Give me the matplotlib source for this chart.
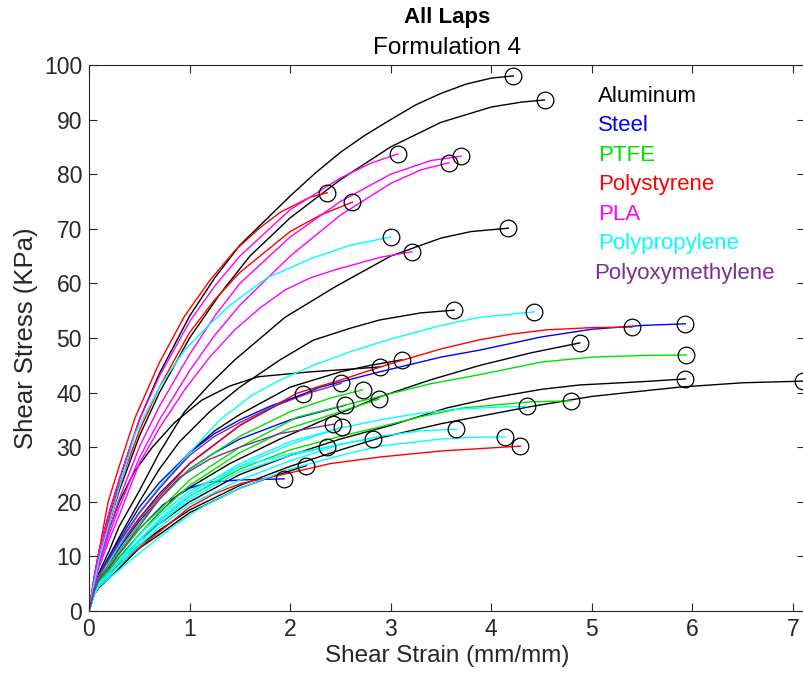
import matplotlib
matplotlib.use("Agg")
import matplotlib.pyplot as plt

plt.rcParams['font.family'] = ['Liberation Sans', 'DejaVu Sans']

# ---- data: one x list and one y list per lap ----
# Aluminum (black)
al_x = [[0, 0.05, 0.1, 0.2, 0.3, 0.5, 0.7, 1.0, 1.25, 1.5, 2.0, 2.25, 2.5, 2.75, 3.0, 3.25, 3.5, 3.75, 4.0, 4.22],
        [0, 0.05, 0.1, 0.2, 0.3, 0.5, 0.7, 1.0, 1.3, 1.6, 2.0, 2.5, 3.0, 3.5, 4.0, 4.3, 4.53],
        [0, 0.05, 0.1, 0.2, 0.3, 0.5, 0.7, 0.95, 1.2, 1.45, 1.95, 2.45, 3.0, 3.5, 3.8, 4.17],
        [0, 0.05, 0.1, 0.2, 0.3, 0.5, 0.7, 0.9, 1.2, 1.5, 1.9, 2.23, 2.6, 2.89, 3.3, 3.63],
        [0, 0.05, 0.1, 0.2, 0.3, 0.45, 0.63, 0.85, 1.12, 1.4, 1.68, 2.2, 2.6, 2.89],
        [0, 0.05, 0.1, 0.2, 0.3, 0.5, 0.7, 1.0, 1.25, 1.5, 2.0, 2.5, 2.8, 3.11],
        [0, 0.05, 0.1, 0.2, 0.3, 0.5, 0.7, 0.9, 1.4, 1.9, 2.4, 2.89, 3.39, 3.89, 4.4, 4.88],
        [0, 0.05, 0.1, 0.2, 0.3, 0.5, 0.7, 1.0, 1.5, 2.0, 2.5, 3.0, 3.56, 4.0, 4.5, 4.88, 5.5, 5.93],
        [0, 0.05, 0.1, 0.2, 0.3, 0.5, 0.7, 1.0, 1.5, 2.0, 2.5, 2.89, 3.5, 4.38, 5.0, 5.87, 6.5, 7.1],
        [0, 0.05, 0.1, 0.2, 0.3, 0.5, 0.7, 1.0, 1.5, 1.8, 2.16]]
al_y = [[0, 6, 11, 18, 24, 35, 43.5, 54, 61, 67, 76, 80.2, 84, 87.2, 90, 92.7, 94.8, 96.5, 97.6, 98.0],
        [0, 5, 9.5, 16, 22, 32, 40, 50, 58, 65, 72, 79, 85, 89.5, 92.3, 93.2, 93.6],
        [0, 4, 7, 11, 15.5, 22, 29, 36.5, 41.5, 46, 53.8, 59.4, 65, 68.3, 69.5, 70.1],
        [0, 4, 6.5, 10, 13.5, 20, 26, 31, 36.5, 41, 46, 49.6, 51.8, 53.3, 54.6, 55.1],
        [0, 5, 9, 15, 20, 25.5, 30, 34.5, 38.6, 41.2, 42.9, 43.8, 44.3, 44.7],
        [0, 4, 6.5, 9.5, 12.5, 18, 22.5, 29, 33, 36, 41, 43.8, 45, 46.0],
        [0, 3, 4.8, 7.5, 9.8, 14, 18, 21.5, 27, 31.5, 35.5, 39.2, 42.3, 45, 47.3, 49.1],
        [0, 3, 4.8, 7, 9, 13, 16, 20, 25, 28.5, 31.5, 34, 37.2, 39, 40.6, 41.4, 42.0, 42.5],
        [0, 3, 4.5, 6.5, 8.5, 12, 14.8, 18.5, 23, 26.5, 29.5, 31.7, 34.3, 37.4, 39.3, 41, 41.8, 42.1],
        [0, 3, 4.3, 6, 7.8, 11.5, 14, 18, 22.5, 24.5, 26.6]]

# Steel (blue)
st_x = [[0, 0.05, 0.1, 0.2, 0.3, 0.5, 0.7, 1.0, 1.5, 1.9, 2.3, 2.89, 3.5, 3.89, 4.5, 5.0, 5.5, 5.93],
        [0, 0.05, 0.1, 0.2, 0.3, 0.5, 0.7, 1.0, 1.25, 1.5, 1.8, 2.13],
        [0, 0.05, 0.1, 0.2, 0.3, 0.5, 0.7, 1.0, 1.25, 1.5, 2.0, 2.55],
        [0, 0.05, 0.1, 0.2, 0.3, 0.5, 0.74, 1.0, 1.2, 1.5, 1.94]]
st_y = [[0, 4, 6.5, 9, 12, 17, 21.5, 27, 34, 38, 41, 43.8, 46.5, 47.8, 50.2, 51.6, 52.3, 52.6],
        [0, 4, 6.5, 10, 13, 19, 23.5, 29, 32.5, 35, 37.5, 39.7],
        [0, 3.5, 6, 8.5, 11.5, 16.5, 20.5, 26, 29, 31.5, 35, 37.7],
        [0, 3, 5.5, 8, 10.5, 15, 19.5, 22.5, 23.6, 24, 24.2]]

# PTFE (green)
pt_x = [[0, 0.05, 0.1, 0.2, 0.3, 0.5, 0.7, 1.0, 1.5, 2.07, 2.5, 2.89, 3.39, 3.89, 4.5, 5.0, 5.5, 5.94],
        [0, 0.05, 0.1, 0.2, 0.3, 0.5, 0.7, 1.0, 1.5, 2.0, 2.5, 2.89, 3.3, 3.72, 4.38, 4.79],
        [0, 0.05, 0.1, 0.2, 0.3, 0.5, 0.7, 1.0, 1.5, 2.0, 2.4, 2.72],
        [0, 0.05, 0.1, 0.2, 0.3, 0.5, 0.7, 1.0, 1.5, 2.0, 2.5, 2.88]]
pt_y = [[0, 3, 5.5, 8, 10.5, 15, 18.5, 24, 30, 35.5, 37.5, 39.3, 41.6, 43.3, 45.6, 46.5, 46.8, 46.9],
        [0, 3, 5, 7, 9, 13, 16.5, 21, 26, 29.5, 32, 33.7, 35.6, 37.2, 38.3, 38.5],
        [0, 3.5, 5.8, 8.5, 11, 16, 20.5, 26, 32, 36.5, 39, 40.5],
        [0, 3, 5.3, 7.5, 9.8, 14, 18, 23, 29, 33.5, 36.5, 38.8]]

# Polystyrene (red)
ps_x = [[0, 0.05, 0.1, 0.19, 0.3, 0.46, 0.7, 0.95, 1.2, 1.45, 1.7, 1.9, 2.2, 2.37],
        [0, 0.05, 0.1, 0.2, 0.3, 0.5, 0.7, 1.0, 1.25, 1.5, 2.0, 2.3, 2.62],
        [0, 0.05, 0.1, 0.2, 0.3, 0.5, 0.7, 1.0, 1.5, 2.07, 2.5, 3.0, 3.5, 3.89, 4.2, 4.55, 5.0, 5.4],
        [0, 0.05, 0.1, 0.2, 0.3, 0.46, 0.7, 1.0, 1.25, 1.5, 2.0, 2.4, 2.89, 3.5, 4.29]]
ps_y = [[0, 6, 11, 20, 26.5, 35.5, 45.5, 54, 60.5, 66, 70.2, 73, 75.8, 76.6],
        [0, 5, 9.5, 17, 23, 33, 41, 51, 57, 62, 69.5, 72.5, 74.9],
        [0, 4, 6.5, 9, 12, 17, 21, 27, 34, 39.9, 42.3, 45.3, 48, 49.7, 50.7, 51.5, 51.9, 52.0],
        [0, 3, 5, 6.8, 8.3, 11, 14.5, 19, 21.5, 23.3, 25.3, 27, 28.2, 29.3, 30.2]]

# PLA (magenta)
pla_x = [[0, 0.05, 0.1, 0.2, 0.3, 0.5, 0.7, 1.0, 1.25, 1.5, 2.0, 2.5, 2.8, 3.07],
         [0, 0.05, 0.1, 0.2, 0.3, 0.5, 0.7, 1.0, 1.25, 1.5, 2.0, 2.5, 3.0, 3.4, 3.7],
         [0, 0.05, 0.1, 0.2, 0.3, 0.5, 0.7, 1.0, 1.25, 1.5, 2.0, 2.5, 3.0, 3.3, 3.58],
         [0, 0.05, 0.1, 0.2, 0.3, 0.5, 0.7, 0.95, 1.2, 1.45, 1.7, 1.95, 2.2, 2.45, 2.9, 3.21]]
pla_y = [[0, 6, 11, 18, 24, 35, 43, 53, 59.5, 65, 73.5, 79.3, 82, 83.7],
         [0, 5, 9, 15, 20.5, 30, 37.5, 47, 54, 60, 68.5, 75, 80, 82.5, 83.3],
         [0, 5, 8.5, 14, 19, 28, 35, 44, 50.5, 56, 65, 72.5, 78.3, 80.8, 82.1],
         [0, 5, 8, 13, 17.5, 27, 33.5, 40.5, 46.5, 51.5, 55.5, 58.8, 61, 62.5, 64.8, 65.8]]

# Polypropylene (cyan)
pp_x = [[0, 0.05, 0.1, 0.2, 0.3, 0.46, 0.7, 0.95, 1.2, 1.4, 1.77, 2.2, 2.6, 3.0],
        [0, 0.05, 0.1, 0.2, 0.3, 0.5, 0.7, 1.0, 1.3, 1.62, 1.9, 2.23, 2.6, 2.96, 3.5, 3.89, 4.43],
        [0, 0.05, 0.1, 0.2, 0.3, 0.5, 0.7, 1.0, 1.5, 2.0, 2.5, 2.89, 3.25, 3.62, 4.0, 4.36],
        [0, 0.05, 0.1, 0.2, 0.3, 0.5, 0.7, 1.0, 1.5, 2.0, 2.5, 2.89, 3.3, 3.65],
        [0, 0.05, 0.1, 0.2, 0.3, 0.46, 0.7, 0.9, 1.12, 1.5, 2.0, 2.5, 2.89, 3.5, 3.8, 4.14],
        [0, 0.05, 0.1, 0.2, 0.3, 0.5, 0.7, 1.0, 1.5, 2.0, 2.52],
        [0, 0.05, 0.1, 0.2, 0.3, 0.5, 0.7, 1.0, 1.5, 2.0, 2.5, 2.82],
        [0, 0.05, 0.1, 0.2, 0.3, 0.5, 0.7, 1.0, 1.5, 2.0, 2.37]]
pp_y = [[0, 5, 9.5, 16, 22.5, 32.5, 41, 47.8, 52.5, 56, 61, 64.5, 67, 68.5],
        [0, 4, 6.5, 9, 12, 18, 22.8, 29, 35, 39.5, 42.3, 45, 47.5, 49.6, 52.3, 53.8, 54.8],
        [0, 3, 5, 7, 9, 13, 16.8, 21.5, 27, 31, 33.5, 35, 36.1, 36.9, 37.3, 37.5],
        [0, 3, 4.8, 6.5, 8.3, 12, 15.3, 19.5, 24, 27.5, 30.5, 32, 33, 33.3],
        [0, 3, 4.5, 6, 7.5, 10, 13.5, 16.3, 19, 22.5, 26, 28.5, 30.2, 31.5, 31.8, 31.9],
        [0, 3, 5, 7, 9, 13, 16.5, 21, 26.5, 30.5, 33.7],
        [0, 3, 4.8, 6.5, 8.4, 12.5, 16, 20.5, 25.5, 28.5, 30.6, 31.5],
        [0, 3, 5, 7, 9.2, 14, 17.5, 22, 26.5, 28.8, 30.0]]

# Polyoxymethylene (purple)
pom_x = [[0, 0.05, 0.1, 0.2, 0.3, 0.5, 0.7, 0.9, 1.2, 1.5, 1.9, 2.43],
         [0, 0.05, 0.1, 0.2, 0.3, 0.5, 0.7, 1.0, 1.25, 1.5, 1.8, 2.2, 2.51]]
pom_y = [[0, 3.5, 5.8, 8, 10.5, 15.5, 20.5, 24.5, 27.8, 30, 32.5, 34.2],
         [0, 4, 6.5, 9.5, 12.5, 18, 22.5, 28.5, 32, 34.5, 37.2, 40, 41.7]]

materials = ["Aluminum", "Steel", "PTFE", "Polystyrene", "PLA",
             "Polypropylene", "Polyoxymethylene"]
colors = ["black", "#0000ff", "#00e000", "#ff0000", "#ff00ff",
          "#00ffff", "#7e2f8e"]
xs = [al_x, st_x, pt_x, ps_x, pla_x, pp_x, pom_x]
ys = [al_y, st_y, pt_y, ps_y, pla_y, pp_y, pom_y]

fig = plt.figure(figsize=(8.04, 6.83), dpi=100)
ax = fig.add_axes([89/804, 72/683, 716/804, 546/683])

ends_x = []
ends_y = []
for group_x, group_y, col in zip(xs, ys, colors):
    for cx, cy in zip(group_x, group_y):
        ax.plot(cx, cy, color=col, lw=1.0)
        ends_x.append(cx[-1])
        ends_y.append(cy[-1])
ax.plot(ends_x, ends_y, 'o', ms=12, mfc='none', mec='black', mew=0.9)

ax.set_xlim(0, 7.12)
ax.set_ylim(0, 100)
ax.set_xticks(range(0, 8))
ax.set_yticks(range(0, 101, 10))
ax.tick_params(direction='in', top=True, right=True, length=6, width=0.8,
               labelsize=16.5, colors='#262626', pad=5)
for sp in ax.spines.values():
    sp.set_color('#262626')
    sp.set_linewidth(0.8)

ax.set_xlabel("Shear Strain (mm/mm)", fontsize=17.5, color='#262626', labelpad=3)
ax.set_ylabel("Shear Stress (KPa)", fontsize=18.5, color='#262626', labelpad=4)

ax.text(0.5, 1.087, "All Laps", transform=ax.transAxes, ha='center', va='center',
        fontsize=16, fontweight='bold', color='black')
ax.text(0.5, 1.032, "Formulation 4", transform=ax.transAxes, ha='center', va='center',
        fontsize=17.5, color='black')

# text-only legend
for i, (name, col) in enumerate(zip(materials, colors)):
    xoff = 5.06 if name != "Polyoxymethylene" else 5.02
    ax.text(xoff, 94.3 - i * 5.4, name, color=col, fontsize=16, va='center', ha='left')

fig.savefig("out.png", dpi=100)
